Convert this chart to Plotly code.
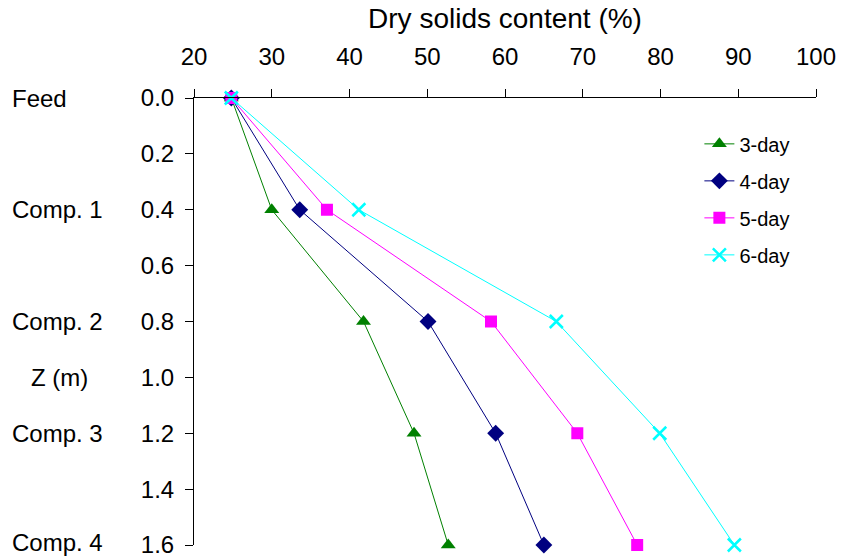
import plotly.graph_objects as go

depth = [0.0, 0.4, 0.8, 1.2, 1.6]
day3 = [24.8, 30.0, 41.8, 48.3, 52.7]
day4 = [24.8, 33.6, 50.1, 58.8, 65.0]
day5 = [24.8, 37.1, 58.2, 69.3, 77.0]
day6 = [24.8, 41.2, 66.6, 79.9, 89.5]
series_names = ["3-day", "4-day", "5-day", "6-day"]
side_labels = ["Feed", "Comp. 1", "Comp. 2", "Comp. 3", "Comp. 4"]
side_pos = [0.0, 0.4, 0.8, 1.2, 1.6]
y_ticks = [0.0, 0.2, 0.4, 0.6, 0.8, 1.0, 1.2, 1.4, 1.6]
y_ticktext = ["0.0", "0.2", "0.4", "0.6", "0.8", "1.0", "1.2", "1.4", "1.6"]

FONT = "Liberation Sans, Arial, sans-serif"
styles = [
    dict(color="#008000", symbol="triangle-up", size=13, lw=0),
    dict(color="#000080", symbol="diamond", size=13, lw=0),
    dict(color="#FF00FF", symbol="square", size=12, lw=0),
    dict(color="#00FFFF", symbol="x-thin", size=13, lw=2.5),
]

fig = go.Figure()
for i, (name, vals) in enumerate(zip(series_names, [day3, day4, day5, day6])):
    s = styles[i]
    fig.add_trace(go.Scatter(
        x=vals, y=depth, name=name, mode="lines+markers",
        legendgroup=name,
        line=dict(color=s["color"], width=1),
        marker=dict(symbol=s["symbol"], size=s["size"], color=s["color"],
                    line=dict(color=s["color"], width=s["lw"])),
        cliponaxis=False,
    ))

for lab, p in zip(side_labels, side_pos):
    fig.add_annotation(x=-0.294, y=p, xref="paper", yref="y", text=lab,
                       showarrow=False, xanchor="left", yanchor="middle",
                       yshift=3 if p == 1.6 else 0, borderpad=0,
                       font=dict(family=FONT, size=24, color="black"))
fig.add_annotation(x=-0.217, y=1.0, xref="paper", yref="y", text="Z (m)",
                   showarrow=False, xanchor="center", yanchor="middle",
                   font=dict(family=FONT, size=24, color="black"))

fig.update_layout(
    width=844, height=558,
    margin=dict(l=194, r=28, t=98, b=13, autoexpand=False),
    paper_bgcolor="white", plot_bgcolor="white",
    font=dict(family=FONT, size=24, color="black"),
    showlegend=True,
    legend=dict(x=0.8125, y=0.941, xanchor="left", yanchor="top",
                font=dict(family=FONT, size=20), tracegroupgap=8,
                bgcolor="rgba(0,0,0,0)"),
    xaxis=dict(side="top", range=[20, 100], dtick=10, tick0=20,
               automargin=False,
               showgrid=False, zeroline=False, showline=True,
               linecolor="black", linewidth=1, ticks="outside",
               ticklen=8, tickcolor="black", ticklabelstandoff=14,
               ticklabeloverflow="allow",
               tickfont=dict(family=FONT, size=24),
               title=dict(text="Dry solids content (%)", standoff=6,
                          font=dict(family=FONT, size=28))),
    yaxis=dict(range=[1.6, 0], tickmode="array", tickvals=y_ticks,
               ticktext=y_ticktext, ticklabeloverflow="allow",
               automargin=False,
               showgrid=False, zeroline=False, showline=True,
               linecolor="black", linewidth=1, ticks="outside",
               ticklen=8, tickcolor="black", ticklabelstandoff=6,
               tickfont=dict(family=FONT, size=24)),
)

fig.write_html("out.html")
